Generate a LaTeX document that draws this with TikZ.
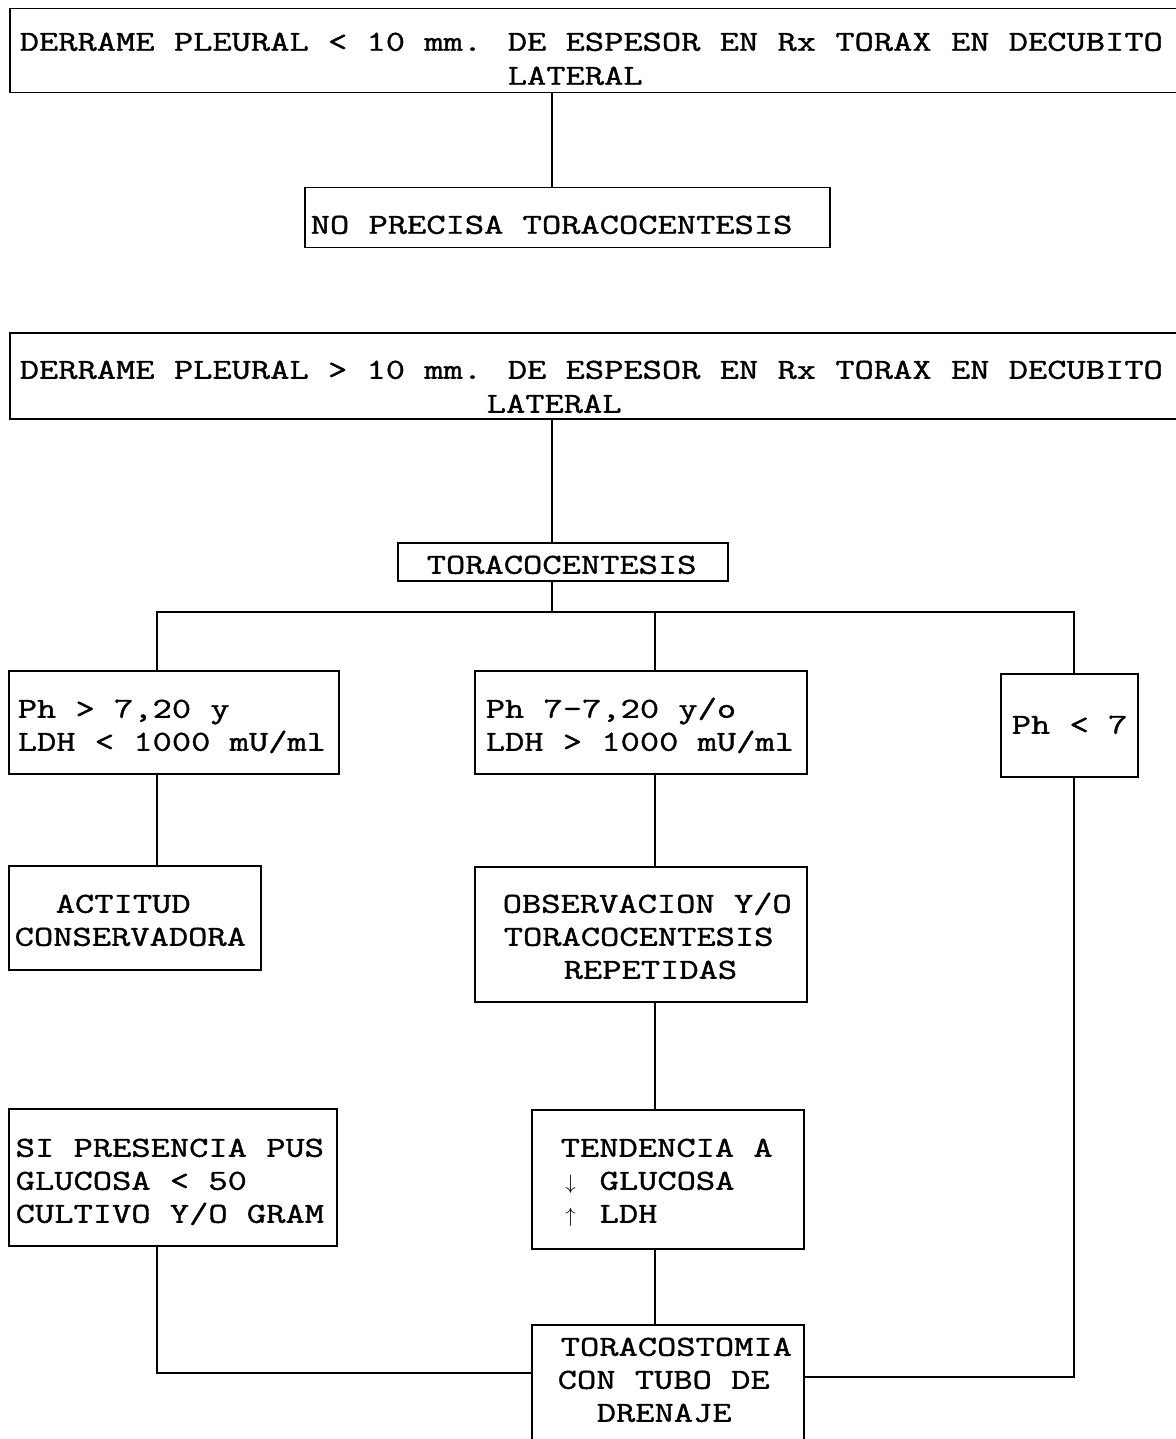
\documentclass[tikz,border=0pt]{standalone}
\usepackage{fontspec}
\newfontfamily\tw{Latin Modern Mono}[FakeStretch=1.29, FakeBold=1.3]
\newcommand\dnar{\makebox[19.6pt]{\fontsize{22}{22}\selectfont$\downarrow$}}
\newcommand\upar{\makebox[19.6pt]{\fontsize{22}{22}\selectfont$\uparrow$}}
\begin{document}
\begin{tikzpicture}[x=1pt,y=-1pt,
  box/.style={draw, line width=1.5pt, inner sep=0pt, anchor=north west, align=left,
    font={\tw\fontsize{29}{33}\selectfont},
    execute at begin node={\spaceskip=0pt\relax\xspaceskip=0pt\relax}},
  widebox/.style={box, font={\tw\fontsize{29}{34}\selectfont}},
  link/.style={line width=1.3pt}]
\useasboundingbox (0,0) rectangle (1175,1439);
% box (x,y) top-left; text width = box width; text height = first baseline - top; text depth = bottom - first baseline
\node[widebox, text width=1169pt, text height=42pt, text depth=42pt] (b1) at (9,8)
  {\hspace*{10pt}DERRAME PLEURAL < 10 mm. DE ESPESOR EN Rx TORAX EN DECUBITO\\\hspace*{498pt}LATERAL};
\node[box, text width=525pt, text height=46pt, text depth=14pt] (b2) at (304,187)
  {\hspace*{6pt}NO PRECISA TORACOCENTESIS};
\node[widebox, text width=1169pt, text height=46pt, text depth=40pt] (b3) at (9,332)
  {\hspace*{10pt}DERRAME PLEURAL > 10 mm. DE ESPESOR EN Rx TORAX EN DECUBITO\\\hspace*{477pt}LATERAL};
\node[box, text width=330pt, text height=31pt, text depth=7pt] (b4) at (397,542)
  {\hspace*{29pt}TORACOCENTESIS};
\node[box, text width=330pt, text height=47pt, text depth=56pt] (b5) at (8,670)
  {\hspace*{9pt}Ph > 7,20 y\\\hspace*{9pt}LDH < 1000 mU/ml};
\node[box, text width=332pt, text height=47pt, text depth=56pt] (b6) at (474,670)
  {\hspace*{11pt}Ph 7-7,20 y/o\\\hspace*{11pt}LDH > 1000 mU/ml};
\node[box, text width=137pt, text height=60pt, text depth=43pt] (b7) at (1000,673)
  {\hspace*{11pt}Ph < 7};
\node[box, text width=252pt, text height=47pt, text depth=57pt] (b8) at (8,865)
  {\hspace*{47pt}ACTITUD\\\hspace*{6pt}CONSERVADORA};
\node[box, text width=332pt, text height=46pt, text depth=89pt] (b9) at (474,866)
  {\hspace*{28pt}OBSERVACION Y/O\\\hspace*{29pt}TORACOCENTESIS\\\hspace*{89pt}REPETIDAS};
\node[box, text width=328pt, text height=48pt, text depth=89pt] (b10) at (8,1108)
  {\hspace*{7pt}SI PRESENCIA PUS\\\hspace*{7pt}GLUCOSA < 50\\\hspace*{7pt}CULTIVO Y/O GRAM};
\node[box, text width=272pt, text height=47pt, text depth=92pt] (b11) at (531,1109)
  {\hspace*{29pt}TENDENCIA A\\\hspace*{29pt}\dnar{} GLUCOSA\\\hspace*{29pt}\upar{} LDH};
\node[box, text width=272pt, text height=31pt, text depth=92pt] (b12) at (531,1324)
  {\hspace*{29pt}TORACOSTOMIA\\\hspace*{26pt}CON TUBO DE\\\hspace*{65pt}DRENAJE};
% connector guide coordinates
\coordinate (cA) at (552,0);
\coordinate (cL) at (157,0);
\coordinate (cM) at (655,0);
\coordinate (cR) at (1074,0);
\coordinate (bus) at (0,612);
\coordinate (jl) at (0,1373);
\coordinate (jr) at (0,1377);
% connectors
\draw[link] (b1.south -| cA) -- (b2.north -| cA);
\draw[link] (b3.south -| cA) -- (b4.north -| cA);
\draw[link] (b4.south -| cA) -- (bus -| cA);
\draw[link] (b5.north -| cL) |- (bus -| cR) -- (b7.north -| cR);
\draw[link] (bus -| cM) -- (b6.north -| cM);
\draw[link] (b5.south -| cL) -- (b8.north -| cL);
\draw[link] (b6.south -| cM) -- (b9.north -| cM);
\draw[link] (b9.south -| cM) -- (b11.north -| cM);
\draw[link] (b11.south -| cM) -- (b12.north -| cM);
\draw[link] (b10.south -| cL) |- (b12.west |- jl);
\draw[link] (b7.south -| cR) |- (b12.east |- jr);
\end{tikzpicture}
\end{document}
